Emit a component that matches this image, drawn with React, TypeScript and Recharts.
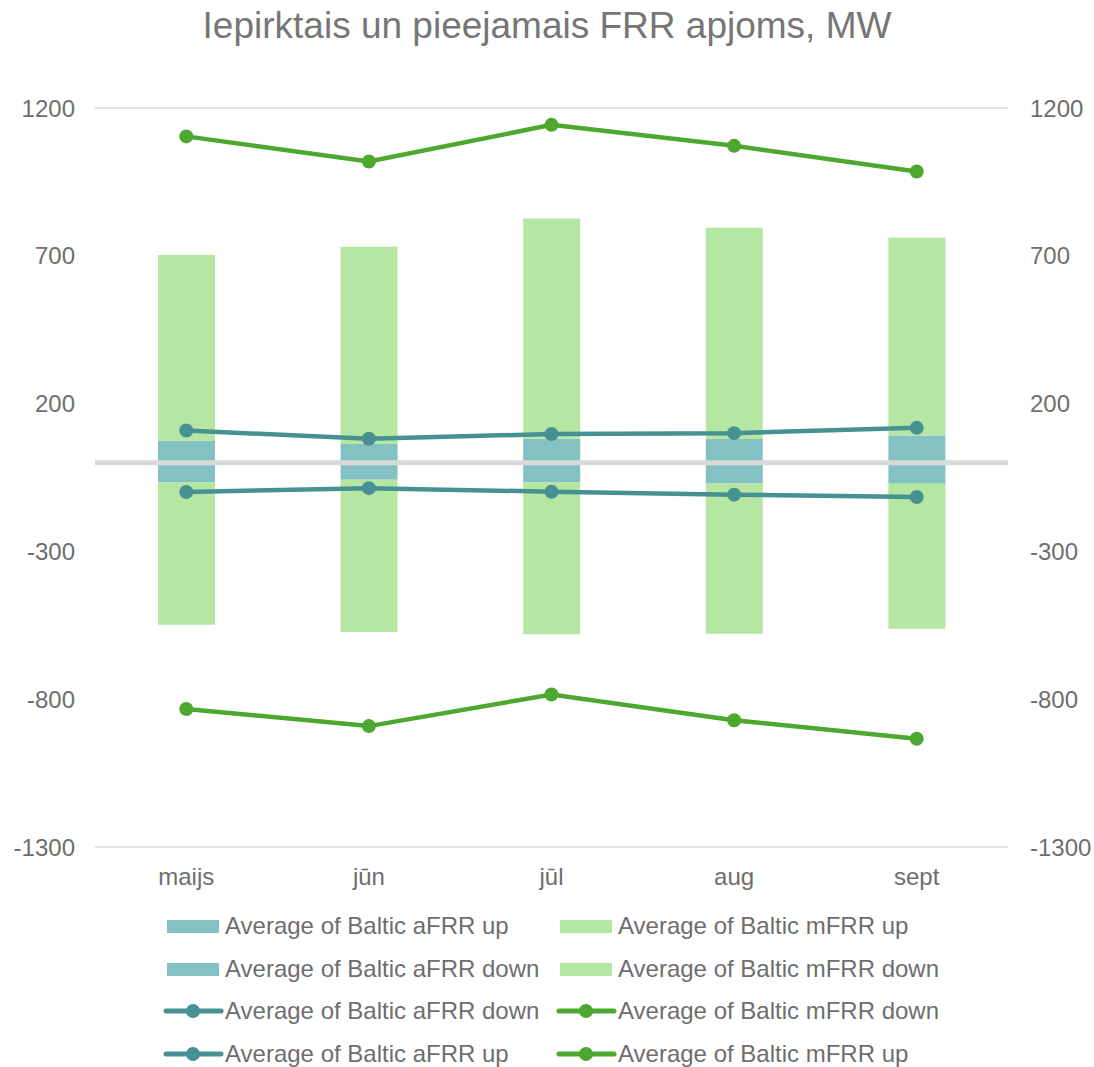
import React from "react";
import {
  ComposedChart,
  Bar,
  Line,
  XAxis,
  YAxis,
  CartesianGrid,
  ReferenceLine,
} from "recharts";

// purchased (bars) vs available (lines) FRR volumes, MW
const months = ["maijs", "jūn", "jūl", "aug", "sept"];
const afrrUpBar = [75, 63, 81, 80, 92];
const mfrrUpBar = [628, 668, 745, 715, 669];
const afrrDownBar = [-67, -58, -67, -70, -71];
const mfrrDownBar = [-481, -515, -513, -509, -491];
const afrrDownLine = [-99, -86, -98, -108, -116];
const mfrrDownLine = [-833, -891, -784, -871, -934];
const afrrUpLine = [109, 81, 97, 100, 118];
const mfrrUpLine = [1104, 1019, 1143, 1072, 985];
const yTicks = [-1300, -800, -300, 200, 700, 1200];

const AFRR_BAR = "#84C1C2";
const MFRR_BAR = "#B5E6A2";
const AFRR_LINE = "#479193";
const MFRR_LINE = "#4EA72E";
const TEXT = "#6e6e6e";
const GRID = "#D9D9D9";
const FONT = "'Liberation Sans', Arial, sans-serif";

const data = months.map((m, i) => ({
  month: m,
  afrrUpBar: afrrUpBar[i],
  mfrrUpBar: mfrrUpBar[i],
  afrrDownBar: afrrDownBar[i],
  mfrrDownBar: mfrrDownBar[i],
  afrrDownLine: afrrDownLine[i],
  mfrrDownLine: mfrrDownLine[i],
  afrrUpLine: afrrUpLine[i],
  mfrrUpLine: mfrrUpLine[i],
}));

// legend order as in the original, two columns
const legendItems = [
  { label: "Average of Baltic aFRR up", color: AFRR_BAR, kind: "bar" },
  { label: "Average of Baltic mFRR up", color: MFRR_BAR, kind: "bar" },
  { label: "Average of Baltic aFRR down", color: AFRR_BAR, kind: "bar" },
  { label: "Average of Baltic mFRR down", color: MFRR_BAR, kind: "bar" },
  { label: "Average of Baltic aFRR down", color: AFRR_LINE, kind: "line" },
  { label: "Average of Baltic mFRR down", color: MFRR_LINE, kind: "line" },
  { label: "Average of Baltic aFRR up", color: AFRR_LINE, kind: "line" },
  { label: "Average of Baltic mFRR up", color: MFRR_LINE, kind: "line" },
];

function LegendBlock() {
  return (
    <div style={{ position: "absolute", left: 0, top: 905, width: 1094 }}>
      {legendItems.map((it, i) => {
        const col = i % 2;
        const row = Math.floor(i / 2);
        const left = col === 0 ? 163 : 556;
        return (
          <div
            key={i}
            style={{
              position: "absolute",
              left,
              top: row * 42.5,
              height: 42,
              display: "flex",
              alignItems: "center",
              whiteSpace: "nowrap",
              fontFamily: FONT,
              fontSize: 24,
              color: TEXT,
            }}
          >
            <svg width={62} height={20}>
              {it.kind === "bar" ? (
                <rect x={4} y={4} width={52} height={13} fill={it.color} />
              ) : (
                <g>
                  <line x1={3} y1={10} x2={58} y2={10} stroke={it.color} strokeWidth={5} strokeLinecap="round" />
                  <circle cx={30} cy={10} r={7} fill={it.color} />
                </g>
              )}
            </svg>
            <span>{it.label}</span>
          </div>
        );
      })}
    </div>
  );
}

export default function App() {
  return (
    <div style={{ position: "absolute", left: 0, top: 0, width: 1094, height: 1067, background: "#fff" }}>
      <div
        style={{
          position: "absolute",
          top: 7,
          left: 0,
          width: 1094,
          textAlign: "center",
          fontFamily: FONT,
          fontSize: 37,
          lineHeight: "37px",
          color: "#767676",
        }}
      >
        Iepirktais un pieejamais FRR apjoms, MW
      </div>
      <ComposedChart
        width={1094}
        height={890}
        data={data}
        stackOffset="sign"
        margin={{ top: 108, right: 0, left: 0, bottom: 3 }}
      >
        <CartesianGrid vertical={false} stroke={GRID} strokeWidth={1.5} />
        <XAxis
          dataKey="month"
          height={40}
          axisLine={false}
          tickLine={false}
          tickSize={0}
          tickMargin={21}
          tick={{ fontSize: 24, fill: TEXT, fontFamily: FONT }}
        />
        <YAxis
          yAxisId="left"
          width={95}
          domain={[-1300, 1200]}
          ticks={yTicks}
          axisLine={false}
          tickLine={false}
          tickSize={0}
          tickMargin={20}
          tick={{ fontSize: 24, fill: TEXT, fontFamily: FONT }}
        />
        <YAxis
          yAxisId="right"
          orientation="right"
          width={86}
          domain={[-1300, 1200]}
          ticks={yTicks}
          axisLine={false}
          tickLine={false}
          tickSize={0}
          tickMargin={22}
          tick={{ fontSize: 24, fill: TEXT, fontFamily: FONT, textAnchor: "start" }}
        />
        <Bar yAxisId="left" dataKey="afrrUpBar" stackId="s" fill={AFRR_BAR} barSize={57} isAnimationActive={false} />
        <Bar yAxisId="left" dataKey="mfrrUpBar" stackId="s" fill={MFRR_BAR} barSize={57} isAnimationActive={false} />
        <Bar yAxisId="left" dataKey="afrrDownBar" stackId="s" fill={AFRR_BAR} barSize={57} isAnimationActive={false} />
        <Bar yAxisId="left" dataKey="mfrrDownBar" stackId="s" fill={MFRR_BAR} barSize={57} isAnimationActive={false} />
        <ReferenceLine yAxisId="left" y={0} stroke={GRID} strokeWidth={5} />
        {[
          { key: "afrrDownLine", color: AFRR_LINE },
          { key: "mfrrDownLine", color: MFRR_LINE },
          { key: "afrrUpLine", color: AFRR_LINE },
          { key: "mfrrUpLine", color: MFRR_LINE },
        ].map((s) => (
          <Line
            key={s.key}
            yAxisId="right"
            dataKey={s.key}
            stroke={s.color}
            strokeWidth={4.5}
            dot={{ r: 7, fill: s.color, stroke: s.color, strokeWidth: 0 }}
            activeDot={false}
            isAnimationActive={false}
          />
        ))}
      </ComposedChart>
      <LegendBlock />
    </div>
  );
}
